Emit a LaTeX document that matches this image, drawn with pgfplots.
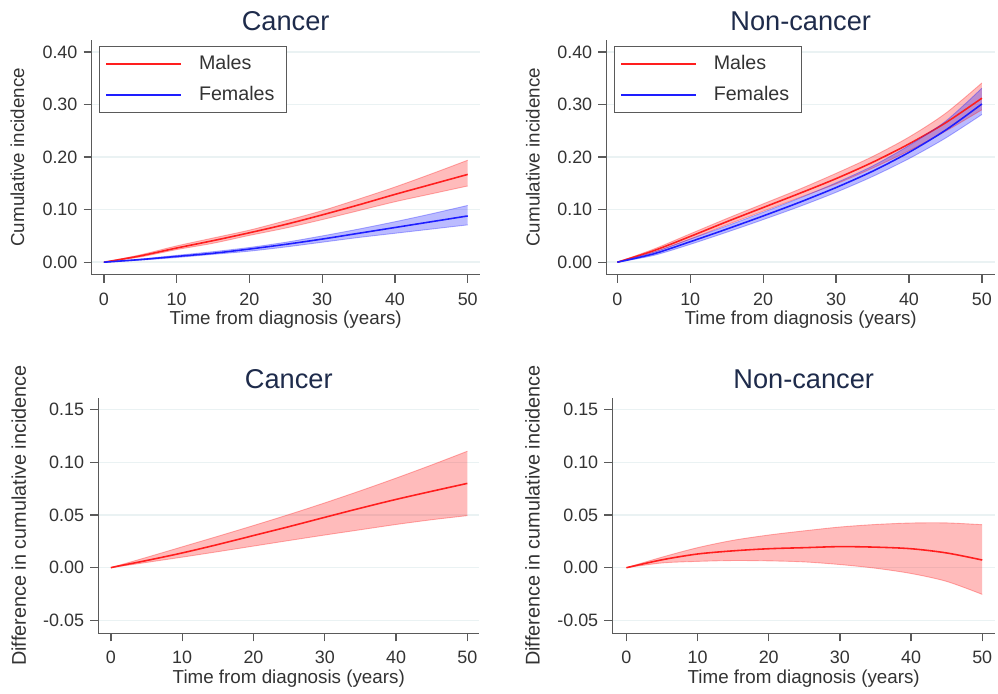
\documentclass[border=0pt]{standalone}
\usepackage{pgfplots}
\pgfplotsset{compat=1.18}
\usepgfplotslibrary{fillbetween}
\usepackage{fontspec}
\setmainfont{Liberation Sans}
\definecolor{sred}{RGB}{255,30,30}
\definecolor{sblue}{RGB}{30,30,255}
\definecolor{sgrid}{HTML}{EAF2F3}
\definecolor{saxis}{HTML}{5A5A5A}
\definecolor{stitle}{HTML}{1E2B4B}
\definecolor{stext}{HTML}{333333}

\pgfplotsset{
  every axis title shift=0pt,
  stata/.style={
    scale only axis, anchor=south west,
    axis lines=left, axis line style={-, saxis, line width=0.75pt},
    tick align=outside, major tick length=0.16cm,
    tick style={saxis, line width=0.75pt},
    ymajorgrids, grid style={sgrid, line width=0.9pt},
    xtick={0,10,...,50},
    /pgf/number format/assume math mode=true,
    ticklabel style={font=\fontsize{10.2}{12}\selectfont, text=stext},
    xticklabel style={anchor=base, yshift=-0.45cm},
    yticklabel style={/pgf/number format/fixed, /pgf/number format/fixed zerofill,
      /pgf/number format/precision=2},
    label style={font=\fontsize{10.7}{12}\selectfont, text=stext},
    xlabel={Time from diagnosis (years)},
    xlabel style={at={(axis description cs:0.5,0)}, anchor=base, yshift=-1.0cm},
    title style={at={(axis description cs:0.5,1)}, anchor=base, yshift=0.18cm,
      font=\fontsize{15.5}{18}\selectfont, text=stitle},
    clip=false,
  },
  sttop/.style={ymin=-0.0238, ymax=0.4228, ytick={0,0.1,...,0.4},
    ylabel={Cumulative incidence}, height=4.70cm},
  stbot/.style={ymin=-0.0623, ymax=0.1614, ytick={-0.05,0,0.05,0.1,0.15},
    ylabel={Difference in cumulative incidence}, height=4.72cm,
    ylabel style={font=\fontsize{11.3}{13}\selectfont}},
  stleg/.style={legend style={at={(axis description cs:0.0188,0.974)}, anchor=north west,
    draw=saxis, line width=0.7pt, fill=white, font=\fontsize{11.2}{13}\selectfont,
    text=stext, row sep=0.04cm, column sep=0.22cm, inner xsep=0.12cm, inner ysep=0.06cm,
    nodes={inner sep=0.12cm}},
    legend cell align=left,
    legend image code/.code={\draw[##1] (0cm,0cm) -- (1.5cm,0cm);}},
  stband/.style={draw=none, fill=#1, fill opacity=0.3},
  stedge/.style={#1, draw opacity=0.35, line width=0.5pt, smooth, forget plot},
  stest/.style={#1, line width=0.9pt, smooth},
}

\pgfplotstableread{
t   m      mlo    mhi    f      flo    fhi
0   0      0      0      0      0      0
5   0.012  0.010  0.014  0.005  0.004  0.006
10  0.027  0.024  0.031  0.011  0.009  0.013
15  0.041  0.036  0.046  0.017  0.015  0.020
20  0.056  0.051  0.061  0.025  0.021  0.028
25  0.072  0.065  0.079  0.034  0.029  0.038
30  0.090  0.081  0.098  0.044  0.038  0.050
35  0.109  0.098  0.120  0.055  0.047  0.063
40  0.129  0.115  0.143  0.066  0.055  0.077
45  0.148  0.130  0.168  0.077  0.063  0.092
50  0.167  0.145  0.194  0.088  0.071  0.108
}\cancer

\pgfplotstableread{
t    m      mlo    mhi    f      flo    fhi
0    0      0      0      0      0      0
5    0.022  0.019  0.025  0.016  0.013  0.019
10   0.049  0.044  0.054  0.039  0.034  0.044
15   0.077  0.071  0.083  0.063  0.057  0.069
20   0.104  0.097  0.111  0.088  0.081  0.095
25   0.131  0.123  0.139  0.114  0.106  0.122
30   0.159  0.149  0.169  0.142  0.133  0.151
35   0.190  0.179  0.201  0.173  0.163  0.183
40   0.225  0.212  0.238  0.209  0.197  0.222
45   0.265  0.249  0.283  0.251  0.236  0.268
50   0.312  0.290  0.341  0.301  0.281  0.331
}\noncancer

\pgfplotstableread{
t   d       lo      hi
0   0       0       0
1   0.0015  0.0010  0.0020
5   0.0068  0.0050  0.0098
10  0.0140  0.0100  0.0198
15  0.0220  0.0152  0.0298
20  0.0305  0.0205  0.0400
25  0.0390  0.0258  0.0505
30  0.0478  0.0310  0.0615
35  0.0565  0.0360  0.0730
40  0.0648  0.0410  0.0850
45  0.0725  0.0455  0.0975
50  0.0800  0.0494  0.1105
}\diffcancer

\pgfplotstableread{
t   d       lo       hi
0   0       0        0
5   0.0075  0.0045   0.0100
10  0.0130  0.0060   0.0190
15  0.0160  0.0068   0.0260
20  0.0180  0.0065   0.0310
25  0.0190  0.0055   0.0350
30  0.0200  0.0030   0.0386
35  0.0195  -0.0005  0.0410
40  0.0180  -0.0055  0.0424
45  0.0140  -0.0130  0.0425
50  0.0073  -0.0253  0.0408
}\diffnon

\begin{document}
\begin{tikzpicture}
\path (0,0) rectangle (19.96cm,13.86cm);

% top left
\begin{axis}[stata, sttop, stleg, at={(1.834cm,8.36cm)}, width=7.77cm,
  xmin=-1.69, xmax=51.65, title={Cancer},
  ylabel style={at={(axis description cs:-0.174,0.5)}, anchor=base}]
\addplot[stedge=sred, name path=mh] table[x=t,y=mhi] {\cancer};
\addplot[stedge=sred, name path=ml] table[x=t,y=mlo] {\cancer};
\addplot[stband=sred, forget plot] fill between[of=mh and ml];
\addplot[stest=sred] table[x=t,y=m] {\cancer};
\addplot[stedge=sblue, name path=fh] table[x=t,y=fhi] {\cancer};
\addplot[stedge=sblue, name path=fl] table[x=t,y=flo] {\cancer};
\addplot[stband=sblue, forget plot] fill between[of=fh and fl];
\addplot[stest=sblue] table[x=t,y=f] {\cancer};
\legend{Males,Females}
\end{axis}

% top right
\begin{axis}[stata, sttop, stleg, at={(12.14cm,8.36cm)}, width=7.78cm,
  xmin=-1.5, xmax=51.8, title={Non-cancer},
  ylabel style={at={(axis description cs:-0.172,0.5)}, anchor=base}]
\addplot[stedge=sred, name path=mh] table[x=t,y=mhi] {\noncancer};
\addplot[stedge=sred, name path=ml] table[x=t,y=mlo] {\noncancer};
\addplot[stband=sred, forget plot] fill between[of=mh and ml];
\addplot[stest=sred] table[x=t,y=m] {\noncancer};
\addplot[stedge=sblue, name path=fh] table[x=t,y=fhi] {\noncancer};
\addplot[stedge=sblue, name path=fl] table[x=t,y=flo] {\noncancer};
\addplot[stband=sblue, forget plot] fill between[of=fh and fl];
\addplot[stest=sblue] table[x=t,y=f] {\noncancer};
\legend{Males,Females}
\end{axis}

% bottom left
\begin{axis}[stata, stbot, at={(1.966cm,1.18cm)}, width=7.63cm,
  xmin=-1.78, xmax=51.68, title={Cancer},
  ylabel style={at={(axis description cs:-0.19,0.5)}, anchor=base}]
\addplot[stedge=sred, name path=h] table[x=t,y=hi] {\diffcancer};
\addplot[stedge=sred, name path=l] table[x=t,y=lo] {\diffcancer};
\addplot[stband=sred] fill between[of=h and l];
\addplot[stest=sred] table[x=t,y=d] {\diffcancer};
\end{axis}

% bottom right
\begin{axis}[stata, stbot, at={(12.26cm,1.18cm)}, width=7.66cm,
  xmin=-1.97, xmax=51.8, title={Non-cancer},
  ylabel style={at={(axis description cs:-0.19,0.5)}, anchor=base}]
\addplot[stedge=sred, name path=h] table[x=t,y=hi] {\diffnon};
\addplot[stedge=sred, name path=l] table[x=t,y=lo] {\diffnon};
\addplot[stband=sred] fill between[of=h and l];
\addplot[stest=sred] table[x=t,y=d] {\diffnon};
\end{axis}
\end{tikzpicture}
\end{document}
